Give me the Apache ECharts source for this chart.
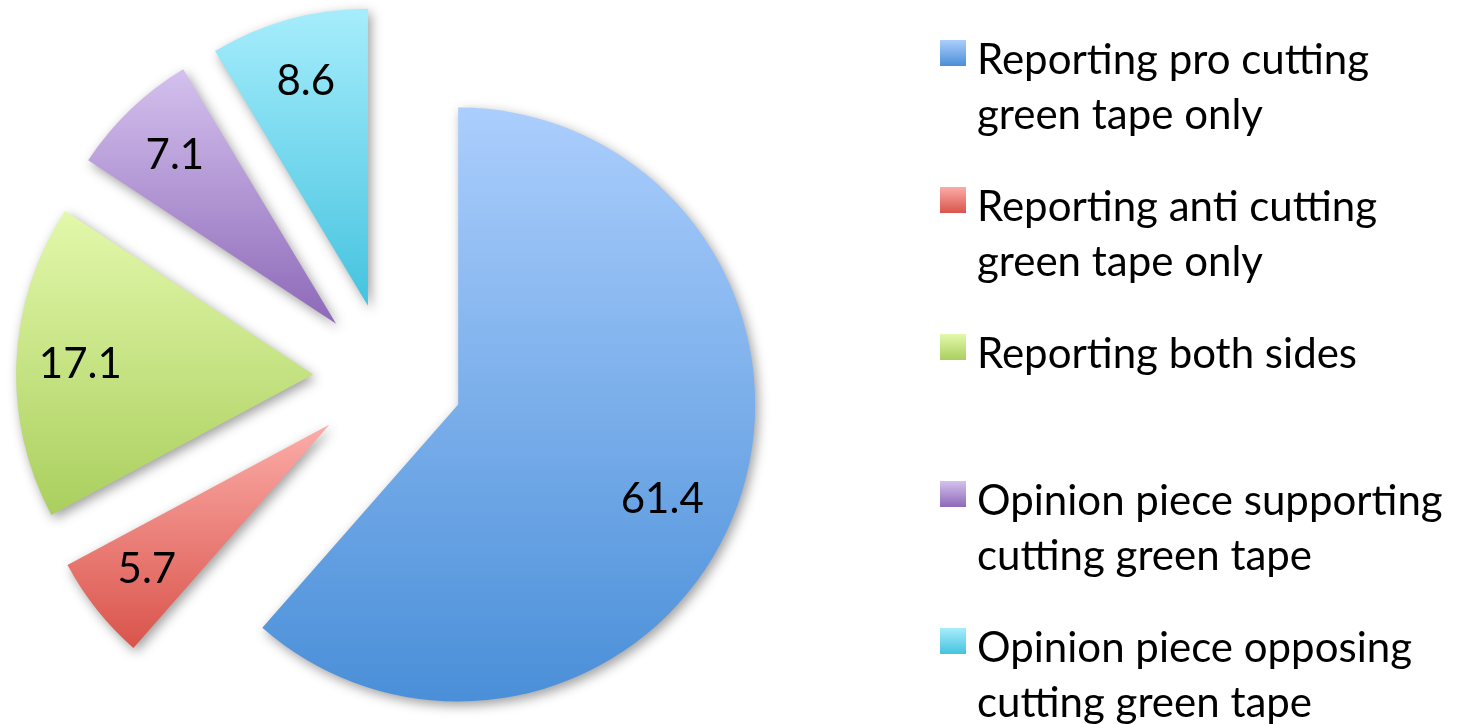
<!DOCTYPE html>
<html>
<head>
<meta charset="utf-8">
<title>Green tape coverage</title>
<script src="https://cdn.jsdelivr.net/npm/echarts@6/dist/echarts.min.js"></script>
<style>
  html, body { margin: 0; padding: 0; background: #ffffff; }
  #chart { width: 1458px; height: 724px; }
</style>
</head>
<body>
<div id="chart"></div>
<script>
// Share of articles by stance (percent)
const categories = [
  'Reporting pro cutting green tape only',
  'Reporting anti cutting green tape only',
  'Reporting both sides',
  'Opinion piece supporting cutting green tape',
  'Opinion piece opposing cutting green tape'
];
const values = [61.4, 5.7, 17.1, 7.1, 8.6];

// Legend text, broken over two lines each
const legendLines = [
  ['Reporting pro cutting', 'green tape only'],
  ['Reporting anti cutting', 'green tape only'],
  ['Reporting both sides', '\u00a0'],
  ['Opinion piece supporting', 'cutting green tape'],
  ['Opinion piece opposing', 'cutting green tape']
];

// Light-to-dark vertical fills, one per slice
const fills = [
  ['#abcefd', '#4a8fd8'],
  ['#fcaca8', '#d9544b'],
  ['#e3f8ab', '#aacf5e'],
  ['#d4c1ee', '#8d69b8'],
  ['#a6edfc', '#45c3df']
];

const FONT = 'Lato, "Open Sans", sans-serif';
const CENTER = [388, 378];
const RADIUS = 297;
const EXPLODE = 75;
const LINE_H = 55;
const LEAD_H = 69;
const ITEM_PITCH = 147;
const BLOCK_H = LEAD_H + 2 * LINE_H;

const grad = (c) => new echarts.graphic.LinearGradient(0, 0, 0, 1, [
  { offset: 0, color: c[0] },
  { offset: 1, color: c[1] }
]);

const sliceData = categories.map((name, i) => ({
  name,
  value: values[i],
  selected: true,
  itemStyle: { color: grad(fills[i]) }
}));

// Transparent ring that carries the value labels further out along each slice
const labelData = categories.map((name, i) => ({
  name,
  value: values[i],
  selected: true
}));

const chart = echarts.init(document.getElementById('chart'), null, { renderer: 'canvas' });

const legendText = { fontFamily: FONT, fontSize: 42, lineHeight: LINE_H, color: '#000000' };

chart.setOption({
  animation: false,
  backgroundColor: '#ffffff',
  textStyle: { fontFamily: FONT },
  legend: {
    orient: 'vertical',
    left: 940,
    top: 40 - (BLOCK_H / 2 - 13),
    height: 2000,
    padding: 0,
    itemWidth: 26,
    itemHeight: 26,
    itemGap: ITEM_PITCH - BLOCK_H,
    icon: 'rect',
    selectedMode: false,
    data: categories,
    itemStyle: { shadowBlur: 0, shadowOffsetX: 0, shadowOffsetY: 0, shadowColor: 'rgba(0,0,0,0)' },
    // a blank leading line keeps the swatch level with the first line of text
    formatter: (name) => {
      const lines = legendLines[categories.indexOf(name)];
      return '{lead|\u00a0}\n{t|' + lines[0] + '}\n{t|' + lines[1] + '}';
    },
    textStyle: Object.assign({}, legendText, {
      rich: {
        lead: Object.assign({}, legendText, { lineHeight: LEAD_H }),
        t: Object.assign({}, legendText, { padding: [0, 0, 0, 6] })
      }
    })
  },
  series: [
    {
      name: 'slices',
      type: 'pie',
      center: CENTER,
      radius: RADIUS,
      startAngle: 90,
      clockwise: true,
      selectedMode: 'multiple',
      selectedOffset: EXPLODE,
      avoidLabelOverlap: false,
      label: { show: false },
      labelLine: { show: false },
      itemStyle: {
        borderWidth: 0,
        shadowBlur: 12,
        shadowColor: 'rgba(0,0,0,0.38)',
        shadowOffsetX: 3,
        shadowOffsetY: 4
      },
      emphasis: { disabled: true },
      select: { itemStyle: { borderWidth: 0 } },
      data: sliceData
    },
    {
      name: 'values',
      type: 'pie',
      center: CENTER,
      radius: [163, RADIUS],
      startAngle: 90,
      clockwise: true,
      silent: true,
      selectedMode: 'multiple',
      selectedOffset: EXPLODE,
      avoidLabelOverlap: false,
      itemStyle: { color: 'rgba(0,0,0,0)', borderWidth: 0 },
      label: {
        show: true,
        position: 'inside',
        formatter: '{c}',
        fontFamily: FONT,
        fontSize: 42,
        color: '#000000'
      },
      labelLayout: (p) => (p.dataIndex === 0 ? { dx: -14, dy: 13 } : {}),
      labelLine: { show: false },
      emphasis: { disabled: true },
      select: { itemStyle: { color: 'rgba(0,0,0,0)', borderWidth: 0 }, label: { color: '#000000' } },
      data: labelData,
      z: 3
    }
  ]
});
</script>
</body>
</html>
